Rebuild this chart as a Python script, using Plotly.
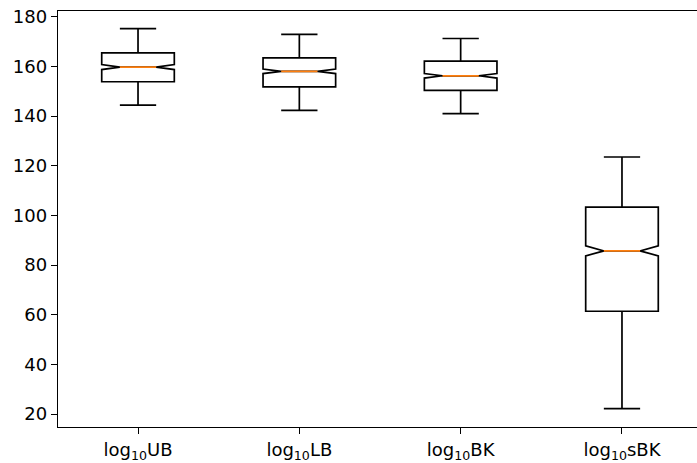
import plotly.graph_objects as go

labels = ["log<sub>10</sub>UB", "log<sub>10</sub>LB", "log<sub>10</sub>BK", "log<sub>10</sub>sBK"]
positions = [1, 2, 3, 4]
q1 = [153.8, 151.7, 150.3, 61.4]
medians = [159.7, 158.0, 156.2, 85.7]
q3 = [165.4, 163.4, 162.1, 103.3]
lower_whisker = [144.4, 142.3, 141.0, 22.2]
upper_whisker = [175.2, 172.9, 171.2, 123.5]
notch_span = [1.0, 0.93, 0.93, 2.0]

BOX_W = 0.45
NOTCH_FRAC = 0.25
LW = 1.7

fig = go.Figure()
for i in range(len(positions)):
    fig.add_trace(go.Box(
        x=[positions[i]], q1=[q1[i]], median=[medians[i]], q3=[q3[i]],
        lowerfence=[lower_whisker[i]], upperfence=[upper_whisker[i]],
        notchspan=[notch_span[i]], notched=True, notchwidth=NOTCH_FRAC,
        width=BOX_W, whiskerwidth=0.5, boxpoints=False,
        line=dict(color="black", width=LW), fillcolor="rgba(0,0,0,0)",
        showlegend=False, hoverinfo="skip",
    ))

# orange median lines
half = BOX_W / 2 - NOTCH_FRAC * BOX_W
mx, my = [], []
for p, m in zip(positions, medians):
    mx += [p - half, p + half, None]
    my += [m, m, None]
fig.add_trace(go.Scatter(x=mx, y=my, mode="lines",
                         line=dict(color="#ff7f0e", width=LW),
                         showlegend=False, hoverinfo="skip"))

axis_common = dict(showline=True, linecolor="black", linewidth=1.4,
                   ticks="outside", ticklen=6, tickwidth=1.4, tickcolor="black",
                   showgrid=False, zeroline=False,
                   tickfont=dict(family="DejaVu Sans", size=18, color="black"))

fig.update_layout(
    width=697, height=463,
    margin=dict(l=58, r=0, t=11, b=34),
    paper_bgcolor="white", plot_bgcolor="white",
    xaxis=dict(range=[0.504, 4.465], tickvals=positions, ticktext=labels,
               mirror=True, **axis_common),
    yaxis=dict(range=[14.79, 182.28], tickvals=list(range(20, 181, 20)),
               mirror=False, **axis_common),
)

fig.write_html("out.html")
